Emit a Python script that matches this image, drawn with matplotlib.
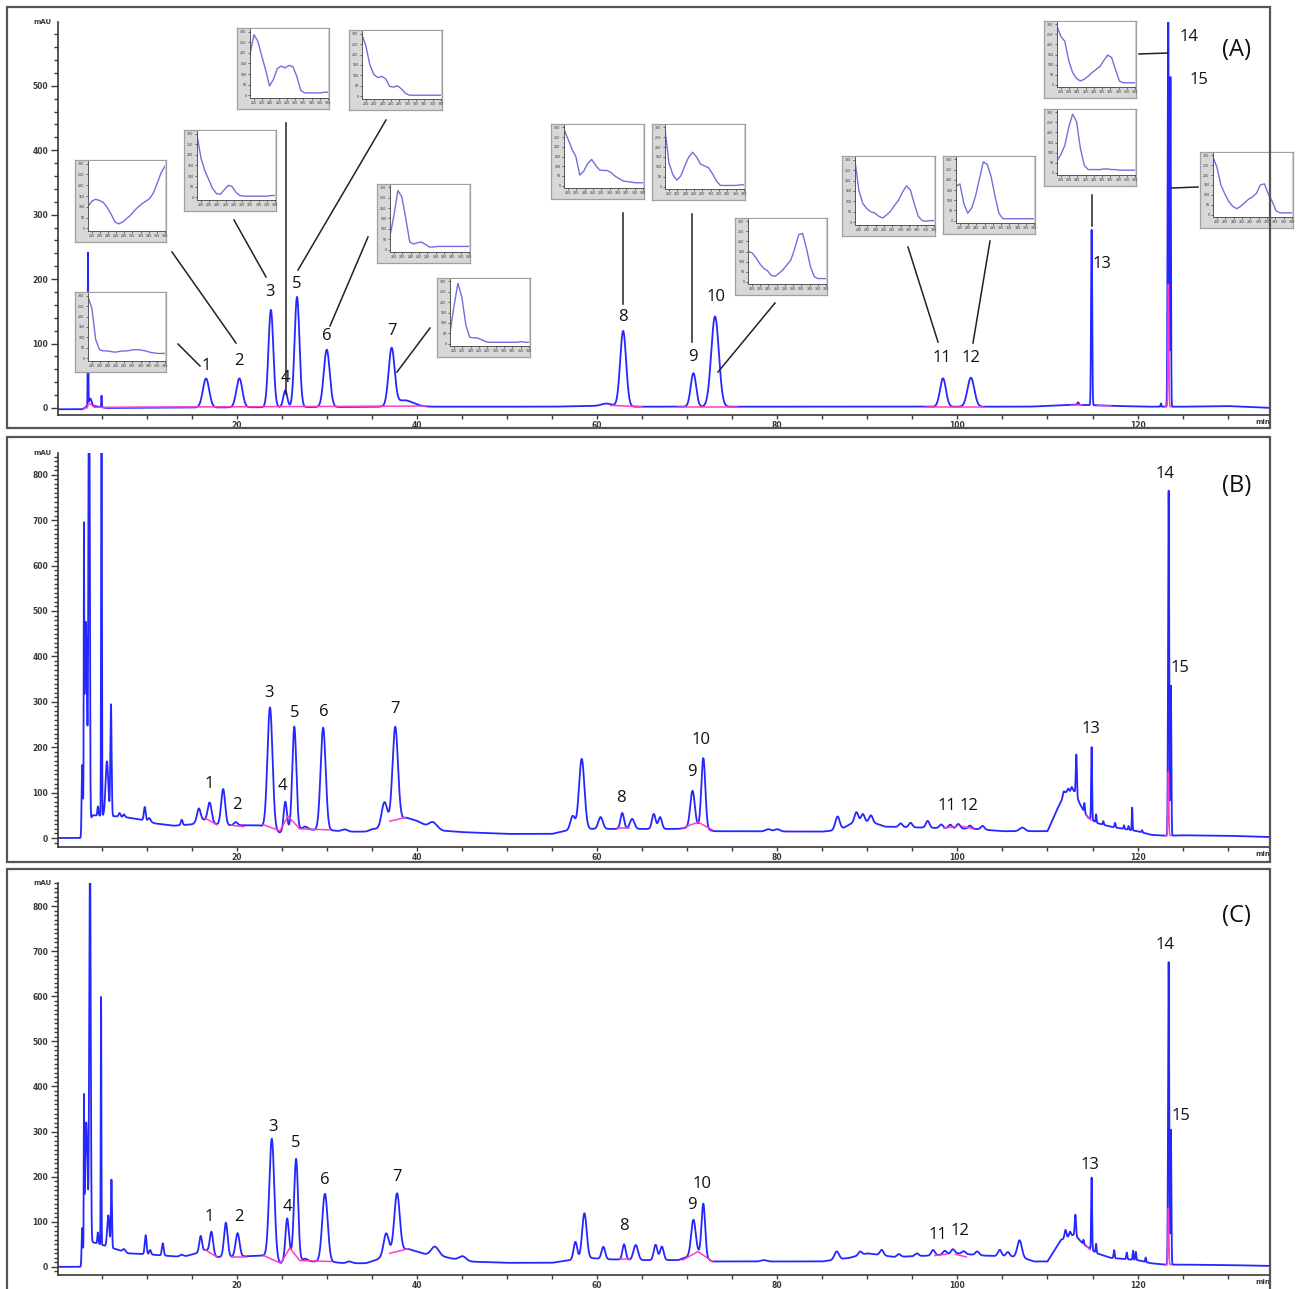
import numpy as np
import matplotlib.pyplot as plt
from matplotlib.lines import Line2D
from matplotlib.patches import Rectangle
from matplotlib.ticker import MultipleLocator, FuncFormatter

W, H = 1296, 1289

# ---------------- panel A (standards) ----------------
a_base_t = [0, 2.9, 3.3, 4.2, 5.5, 20, 40, 55, 59, 61.5, 63.5, 90, 108, 111, 113, 116, 118, 121, 125, 130, 135]
a_base_v = [-2, -2, 2, 3, 0, 1, 2, 2, 3, 4, 2, 2, 2, 4, 5, 4, 3, 2, 2, 3, 0]
a_rt = [3.5, 3.75, 5.0, 16.6, 20.3, 23.8, 25.4, 26.7, 30.0, 37.2, 38.6, 61.0, 62.9, 70.7, 73.1,
        98.4, 101.5, 113.4, 114.9, 122.6, 123.4, 123.65]
a_h = [236, 12, 18, 45, 45, 151, 26, 171, 89, 88, 10, 3, 117, 52, 140, 44, 45, 4, 272, 5, 640, 512]
a_w = [0.03, 0.15, 0.03, 0.35, 0.33, 0.27, 0.22, 0.27, 0.33, 0.33, 1.0, 0.5, 0.33, 0.3, 0.42,
       0.33, 0.38, 0.08, 0.06, 0.04, 0.06, 0.05]
a_pink_t = [[3.0, 3.4, 3.6, 4.2, 41], [61.5, 65.0], [69.0, 75.5], [96.5, 103.0], [112.6, 113.8], [115.6, 117.0]]
a_pink_v = [[0, 0, 8, 1, 3], [4, 2], [2, 2], [2, 2], [4, 5], [4, 3]]
a_spike = (123.42, 190, 0.05)
a_lab = ['1', '2', '3', '4', '5', '6', '7', '8', '9', '10', '11', '12', '13', '14', '15']
a_lab_t = [16.6, 20.3, 23.7, 25.4, 26.7, 30.0, 37.2, 62.9, 70.6, 73.2, 98.3, 101.5, 116.1, 125.7, 126.8]
a_lab_y = [65, 73, 180, 47, 193, 112, 120, 141, 79, 172, 78, 78, 224, 575, 509]

# ---------------- panel B ----------------
b_base_t = [0, 2.7, 3.0, 4.0, 6.5, 8, 9.5, 11, 13, 15, 16.3, 17.8, 19, 22.5, 24.8, 26.0, 27.5, 30, 32, 35,
            36.5, 38.8, 40, 41, 43, 45, 50, 55, 57, 59, 61, 65, 69, 71, 73, 85, 87, 88.5, 90.5, 92,
            98, 102, 105, 110, 111, 112, 113, 113.6, 114, 114.5, 115.5, 117, 120, 121.5, 123, 125, 130, 135]
b_base_v = [0, 0, 5, 50, 48, 45, 40, 32, 27, 30, 40, 30, 28, 28, 12, 20, 18, 18, 14, 14,
            30, 45, 38, 28, 16, 13, 9, 9, 18, 20, 20, 20, 20, 25, 15, 14, 18, 35, 35, 25,
            22, 20, 15, 15, 60, 100, 103, 75, 60, 45, 33, 25, 15, 7, 5, 6, 5, 2]
b_rt = [2.85, 3.05, 3.25, 3.62, 4.6, 5.0, 5.6, 6.05, 7.0, 7.5,
        9.8, 10.3, 13.9, 15.8, 17.0, 18.5, 19.9, 23.7, 25.4, 26.4,
        27.6, 29.6, 32.0, 35.0, 36.4, 37.6, 41.8, 57.3, 58.3, 60.4,
        62.8, 63.9, 66.3, 67.0, 70.6, 71.8, 79.0, 80.0, 86.7, 88.8,
        89.5, 90.4, 93.7, 94.8, 96.7, 98.2, 99.2, 100.1, 101.4, 102.8,
        107.2, 111.8, 112.3, 112.7, 113.2, 114.1, 114.9, 115.4, 116.2, 117.5,
        118.5, 119.0, 119.4, 120.5, 123.45, 123.7]
b_h = [150, 520, 460, 1100, 20, 1100, 120, 245, 8, 6,
       30, 8, 12, 29, 43, 79, 7, 268, 64, 226,
       7, 225, 5, 5, 50, 208, 12, 30, 155, 26,
       35, 22, 33, 26, 80, 155, 5, 5, 30, 22,
       18, 15, 8, 10, 15, 8, 8, 10, 7, 8,
       8, 10, 8, 10, 90, 20, 160, 18, 8, 10,
       8, 8, 50, 5, 760, 330]
b_w = [0.06, 0.025, 0.14, 0.07, 0.06, 0.04, 0.15, 0.07, 0.1, 0.1,
       0.1, 0.15, 0.1, 0.2, 0.22, 0.22, 0.2, 0.28, 0.18, 0.22,
       0.3, 0.28, 0.3, 0.3, 0.3, 0.3, 0.4, 0.25, 0.3, 0.25,
       0.2, 0.25, 0.2, 0.2, 0.25, 0.22, 0.3, 0.3, 0.25, 0.2,
       0.2, 0.2, 0.2, 0.2, 0.2, 0.2, 0.2, 0.2, 0.2, 0.2,
       0.3, 0.1, 0.1, 0.1, 0.06, 0.05, 0.05, 0.05, 0.05, 0.06,
       0.05, 0.05, 0.04, 0.05, 0.06, 0.05]
b_pink_t = [[16.5, 17.8], [19.4, 20.8], [23.0, 24.8, 25.7, 27.0, 30.3], [37.0, 38.7], [62.2, 63.5],
            [69.5, 71.2, 72.8], [98.5, 99.8], [100.5, 101.8], [114.3, 114.8]]
b_pink_v = [[44, 29], [28, 25], [29, 16, 48, 20, 18], [37, 45], [22, 22],
            [22, 35, 18], [22, 25], [26, 20], [50, 40]]
b_spike = (123.42, 140, 0.05)
b_lab = ['1', '2', '3', '4', '5', '6', '7', '8', '9', '10', '11', '12', '13', '14', '15']
b_lab_t = [17.0, 20.0, 23.6, 25.1, 26.4, 29.7, 37.6, 62.6, 70.5, 71.6, 98.8, 101.3, 114.8, 123.1, 124.7]
b_lab_y = [119, 73, 319, 115, 275, 278, 284, 88, 145, 216, 70, 70, 240, 802, 374]

# ---------------- panel C ----------------
c_base_t = [0, 2.7, 3.0, 4.0, 6.5, 8, 10, 12, 14, 15.5, 16.6, 17.8, 19, 23, 24.9, 25.9, 27, 30, 32, 35,
            36.5, 39, 41, 42.5, 44, 45.5, 50, 55, 57, 59, 61, 65, 69, 71.2, 72.8, 85, 88, 90, 93, 97,
            100, 103, 107, 108.5, 110, 111.5, 113, 114, 115.5, 117, 120, 121.5, 123, 125, 130, 135]
c_base_v = [0, 0, 5, 55, 40, 30, 28, 25, 22, 30, 38, 22, 22, 25, 8, 30, 12, 12, 8, 8,
            28, 40, 28, 25, 18, 12, 9, 9, 15, 20, 17, 15, 15, 30, 12, 12, 20, 30, 22, 25,
            30, 25, 22, 12, 12, 60, 72, 50, 30, 20, 15, 8, 5, 5, 4, 2]
c_rt = [2.85, 3.05, 3.3, 3.72, 4.6, 4.95, 5.75, 6.1, 7.5, 9.9,
        10.4, 11.8, 13.9, 16.0, 17.2, 18.8, 20.1, 23.9, 25.6, 26.6,
        27.6, 29.8, 32.5, 35.0, 36.6, 37.8, 42.0, 45.1, 57.6, 58.6,
        60.7, 63.0, 64.3, 66.5, 67.2, 70.7, 71.8, 78.5, 86.6, 89.2,
        91.6, 93.5, 95.5, 97.3, 98.6, 99.5, 100.7, 102.2, 104.7, 105.6,
        106.9, 112.0, 112.5, 113.1, 114.0, 114.9, 115.4, 117.4, 118.8, 119.5,
        119.8, 120.9, 123.45, 123.7]
c_h = [80, 300, 300, 900, 25, 550, 70, 150, 6, 42,
       10, 27, 5, 35, 48, 76, 52, 267, 84, 221,
       6, 150, 4, 4, 46, 129, 19, 10, 39, 100,
       27, 34, 33, 34, 30, 78, 117, 3, 18, 8,
       12, 6, 6, 12, 8, 10, 6, 8, 14, 10,
       37, 18, 10, 46, 10, 160, 20, 18, 15, 20,
       18, 10, 671, 299]
c_w = [0.06, 0.025, 0.15, 0.08, 0.06, 0.035, 0.12, 0.06, 0.15, 0.1,
       0.1, 0.1, 0.2, 0.15, 0.18, 0.2, 0.22, 0.28, 0.18, 0.22,
       0.3, 0.3, 0.3, 0.3, 0.28, 0.3, 0.4, 0.4, 0.2, 0.25,
       0.2, 0.18, 0.25, 0.2, 0.2, 0.25, 0.2, 0.3, 0.25, 0.2,
       0.2, 0.2, 0.2, 0.2, 0.2, 0.2, 0.2, 0.2, 0.2, 0.2,
       0.25, 0.1, 0.1, 0.07, 0.05, 0.05, 0.05, 0.06, 0.06, 0.05,
       0.05, 0.05, 0.06, 0.05]
c_pink_t = [[16.5, 17.8], [19.5, 21.0], [23.0, 24.9, 25.9, 27.0, 30.5], [37.0, 39.0], [62.5, 63.6],
            [69.5, 71.2, 72.8], [97.5, 98.8], [99.8, 101.0], [114.2, 114.7]]
c_pink_v = [[38, 22], [22, 22], [25, 8, 42, 14, 12], [30, 40], [18, 18],
            [15, 34, 12], [25, 28], [28, 22], [50, 38]]
c_spike = (123.42, 125, 0.05)
c_lab = ['1', '2', '3', '4', '5', '6', '7', '8', '9', '10', '11', '12', '13', '14', '15']
c_lab_t = [17.0, 20.3, 24.0, 25.6, 26.5, 29.8, 37.8, 63.0, 70.5, 71.7, 97.8, 100.3, 114.7, 123.1, 124.8]
c_lab_y = [111, 111, 310, 133, 275, 193, 200, 91, 137, 184, 71, 80, 226, 714, 335]

# ---------------- UV spectra in panel A insets (relative absorbance) ----------------
spec_x = np.linspace(0, 1, 21)
spec1 = [98, 80, 30, 14, 12, 12, 11, 10, 11, 12, 12, 13, 14, 14, 13, 12, 10, 9, 8, 8, 8]
spec2 = [34, 42, 45, 43, 40, 32, 22, 10, 7, 10, 15, 20, 27, 33, 38, 42, 46, 55, 70, 86, 96]
spec3 = [98, 62, 42, 28, 14, 6, 5, 12, 19, 17, 8, 3, 2, 2, 2, 2, 2, 2, 2, 3, 3]
spec4 = [64, 95, 85, 62, 40, 15, 25, 42, 46, 43, 47, 45, 30, 8, 4, 4, 4, 4, 4, 5, 5]
spec5 = [98, 80, 50, 35, 30, 32, 28, 16, 15, 17, 12, 5, 2, 2, 2, 2, 2, 2, 2, 2, 2]
spec6 = [22, 55, 95, 85, 50, 12, 9, 11, 12, 8, 4, 4, 5, 5, 5, 5, 5, 5, 5, 5, 5]
spec7 = [17, 60, 97, 75, 30, 10, 9, 9, 6, 3, 2, 2, 2, 2, 2, 2, 2, 2, 3, 2, 2]
spec8 = [97, 80, 63, 50, 18, 25, 38, 45, 35, 27, 26, 26, 22, 16, 12, 8, 7, 6, 5, 5, 5]
spec9 = [97, 40, 20, 11, 18, 35, 50, 58, 50, 38, 35, 32, 22, 10, 2, 2, 2, 2, 2, 3, 3]
spec10 = [50, 48, 40, 30, 22, 18, 10, 9, 14, 20, 28, 36, 55, 78, 80, 55, 25, 8, 5, 5, 5]
spec11 = [98, 50, 30, 22, 17, 15, 10, 7, 12, 18, 27, 35, 48, 58, 52, 30, 10, 3, 2, 3, 3]
spec12 = [56, 60, 28, 12, 20, 40, 68, 96, 92, 72, 40, 12, 3, 3, 3, 3, 3, 3, 3, 3, 3]
spec13 = [20, 30, 45, 75, 97, 85, 40, 12, 5, 5, 5, 5, 6, 6, 5, 5, 4, 4, 4, 4, 4]
spec14 = [97, 80, 72, 40, 20, 10, 6, 9, 14, 20, 25, 30, 40, 49, 45, 25, 6, 3, 3, 3, 3]
spec15 = [97, 80, 50, 35, 22, 14, 10, 14, 20, 26, 30, 36, 50, 52, 35, 22, 6, 3, 3, 3, 3]
spectra = [spec1, spec2, spec3, spec4, spec5, spec6, spec7, spec8, spec9, spec10,
           spec11, spec12, spec13, spec14, spec15]

# layout (pixel boxes of the insets and their leader lines)
inset_boxes = [(75, 292, 166, 372), (75, 160, 166, 242), (184, 130, 276, 211), (237, 28, 329, 109),
               (349, 30, 442, 110), (377, 184, 470, 263), (437, 278, 530, 357), (551, 124, 644, 199),
               (652, 124, 745, 200), (735, 218, 827, 295), (842, 156, 935, 236), (943, 156, 1035, 234),
               (1044, 109, 1136, 186), (1044, 21, 1136, 98), (1200, 152, 1293, 228)]
leaders = [((178, 344), (200, 366)), ((172, 252), (236, 343)), ((234, 220), (266, 277)),
           ((286, 123), (286, 394)), ((386, 120), (298, 270)), ((368, 237), (330, 326)),
           ((430, 328), (397, 372)), ((623, 213), (623, 304)), ((692, 214), (692, 342)),
           ((775, 303), (718, 372)), ((908, 247), (938, 342)), ((990, 241), (973, 343)),
           ((1092, 195), (1092, 226)), ((1139, 54), (1168, 53)), ((1172, 188), (1198, 187))]

BLUE = '#2626ff'
PINK = '#ff3cc8'
AXC = '#3a3a3a'
LABFONT = ['Open Sans', 'DejaVu Sans']

fig = plt.figure(figsize=(W / 100, H / 100), dpi=100)


def px_rect(x0, y0, x1, y1):
    return [x0 / W, 1 - y1 / H, (x1 - x0) / W, (y1 - y0) / H]


def trace(t, bt, bv, rt, h, w):
    y = np.interp(t, bt, bv)
    for r, hh, ww in zip(rt, h, w):
        y = y + hh * np.exp(-0.5 * ((t - r) / ww) ** 2)
    return y


t = np.arange(0, 135.0001, 0.004)


def panel(top, bot, ylim, yminor, bt, bv, rt, h, w, pt, pv, spike, lab, lt, ly, tag, tag_y):
    ax = fig.add_axes(px_rect(58, top, 1270, bot))
    ax.patch.set_alpha(0)
    ax.plot(t, trace(t, bt, bv, rt, h, w), color=BLUE, lw=1.3, zorder=2)
    for xs, ys in zip(pt, pv):
        ax.plot(xs, ys, color=PINK, lw=1.1, zorder=3)
    r, sh, sw = spike
    st = t[(t > r - 0.3) & (t < r + 0.3)]
    ax.plot(st, np.interp(st, bt, bv) + sh * np.exp(-0.5 * ((st - r) / sw) ** 2),
            color=PINK, lw=1.1, zorder=3)
    ax.set_xlim(0.17, 134.7)
    ax.set_ylim(*ylim)
    for s in ['top', 'right']:
        ax.spines[s].set_visible(False)
    for s in ['left', 'bottom']:
        ax.spines[s].set_color(AXC)
        ax.spines[s].set_linewidth(1.2)
    ax.xaxis.set_major_locator(MultipleLocator(20))
    ax.xaxis.set_minor_locator(MultipleLocator(5))
    ax.xaxis.set_major_formatter(FuncFormatter(lambda v, p: '' if v <= 0 else '%d' % v))
    ax.yaxis.set_major_locator(MultipleLocator(100))
    ax.yaxis.set_minor_locator(MultipleLocator(yminor))
    ax.tick_params(which='both', colors=AXC, labelsize=5.5, width=1.0)
    ax.tick_params(axis='y', which='major', length=5, pad=2)
    ax.tick_params(axis='y', which='minor', length=3)
    ax.tick_params(axis='x', which='both', length=3, pad=1)
    for lbl in ax.get_xticklabels() + ax.get_yticklabels():
        lbl.set_fontweight('bold')
    ax.text(-0.005, 1.0, 'mAU', transform=ax.transAxes, ha='right', va='center',
            fontsize=5, fontweight='bold', color=AXC)
    ax.text(1.0, -0.01, 'min', transform=ax.transAxes, ha='right', va='top',
            fontsize=5, fontweight='bold', color=AXC)
    for s, x, y in zip(lab, lt, ly):
        ax.text(x, y, s, ha='center', va='center', fontsize=12, family=LABFONT, color='#111')
    ax.text(131.0, tag_y, tag, ha='center', va='center', fontsize=17, family=LABFONT, color='#111')
    return ax


panel(22, 415, (-10.9, 599), 20, a_base_t, a_base_v, a_rt, a_h, a_w, a_pink_t, a_pink_v, a_spike,
      a_lab, a_lab_t, a_lab_y, '(A)', 556)
panel(453, 847, (-19.8, 848), 10, b_base_t, b_base_v, b_rt, b_h, b_w, b_pink_t, b_pink_v, b_spike,
      b_lab, b_lab_t, b_lab_y, '(B)', 775)
panel(883, 1275, (-18, 851), 10, c_base_t, c_base_v, c_rt, c_h, c_w, c_pink_t, c_pink_v, c_spike,
      c_lab, c_lab_t, c_lab_y, '(C)', 778)

# panel frames
for y0, y1 in [(7, 428), (437, 862), (869, 1295)]:
    fig.add_artist(Rectangle((7 / W, 1 - y1 / H), (1270 - 7) / W, (y1 - y0) / H,
                             transform=fig.transFigure, fill=False, ec='#555555', lw=1.6))

# leader lines from the spectra to the peaks
for (x0, y0), (x1, y1) in leaders:
    fig.add_artist(Line2D([x0 / W, x1 / W], [1 - y0 / H, 1 - y1 / H], transform=fig.transFigure,
                          color='#222222', lw=1.1))

# UV spectrum insets
for (x0, y0, x1, y1), spec in zip(inset_boxes, spectra):
    outer = fig.add_axes(px_rect(x0, y0, x1, y1))
    outer.set_facecolor('#d8d8d8')
    outer.set_xticks([])
    outer.set_yticks([])
    for s in outer.spines.values():
        s.set_color('#a0a0a0')
        s.set_linewidth(0.9)
    inner = fig.add_axes(px_rect(x0 + 13, y0 + 1, x1 - 1, y1 - 11))
    inner.set_facecolor('white')
    inner.plot(spec_x, spec, color='#7070dc', lw=1.0)
    inner.set_xlim(0, 1)
    inner.set_ylim(-4, 104)
    for s in ['top', 'right']:
        inner.spines[s].set_visible(False)
    for s in ['left', 'bottom']:
        inner.spines[s].set_color('#555555')
        inner.spines[s].set_linewidth(0.7)
    inner.set_xticks(np.linspace(0.05, 1.0, 10))
    inner.set_xticklabels(['%d' % v for v in range(200, 400, 20)])
    inner.set_yticks(np.linspace(0, 100, 7))
    inner.set_yticklabels(['%d' % v for v in range(0, 350, 50)])
    inner.tick_params(length=1.5, width=0.5, pad=1, labelsize=2.3, colors='#333333')

fig.savefig('out.png', dpi=100)
